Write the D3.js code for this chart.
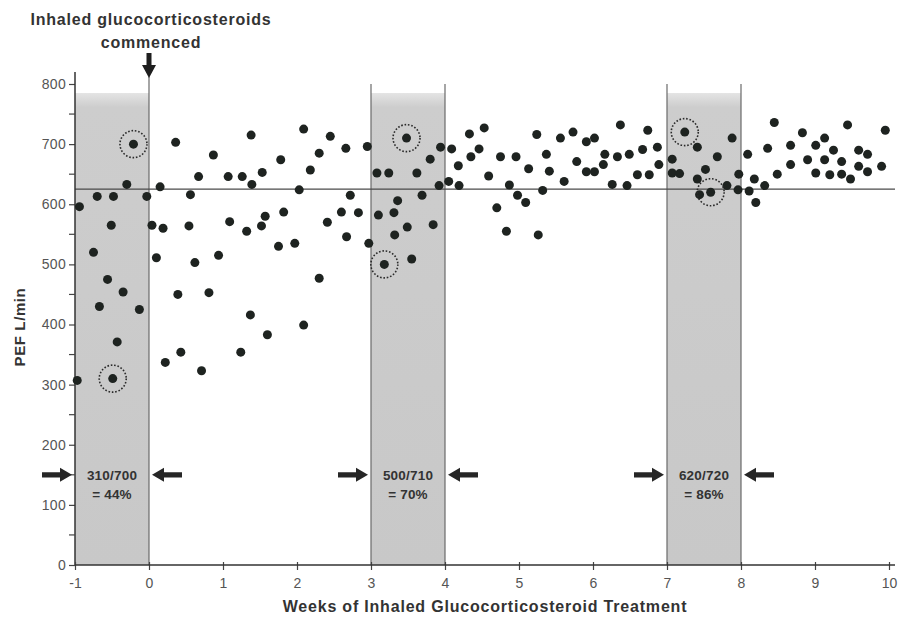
<!DOCTYPE html>
<html>
<head>
<meta charset="utf-8">
<script src="https://cdn.jsdelivr.net/npm/d3@7"></script>
<style>
  html, body { margin: 0; padding: 0; background: #fff; }
  svg { display: block; font-family: "Liberation Sans", Arial, sans-serif; }
</style>
</head>
<body>
<svg id="chart" width="899" height="617"></svg>
<script>
// Daily peak expiratory flow readings: [week, PEF L/min]
const readings = [
  [-0.94,596],[-0.97,307],[-0.70,613],[-0.48,613],[-0.30,633],[-0.03,613],[-0.51,565],[0.04,565],
  [-0.75,520],[-0.56,475],[-0.35,454],[-0.67,430],[-0.13,425],[-0.43,371],
  [0.15,629],[0.19,560],[0.10,511],[0.36,703],[0.39,450],[0.22,337],[0.43,354],[0.54,564],
  [0.56,616],[0.62,503],[0.67,646],[0.71,323],[0.81,453],[0.87,682],[0.94,515],[1.07,646],
  [1.09,571],[1.26,646],[1.24,354],[1.32,555],[1.38,715],[1.39,633],[1.37,416],[1.52,564],
  [1.53,653],[1.57,580],[1.60,383],[1.78,674],[1.82,587],[1.75,530],[1.97,535],[2.03,624],
  [2.09,725],[2.45,713],[2.30,685],[2.66,693],[2.95,696],[2.18,657],[2.72,615],[2.60,587],
  [2.83,586],[2.41,570],[2.67,546],[2.97,535],[2.30,477],[2.09,399],
  [3.08,652],[3.24,652],[3.62,652],[3.80,675],[3.94,695],[3.92,631],[3.69,615],[3.36,606],
  [3.10,582],[3.31,586],[3.49,562],[3.32,549],[3.84,566],[3.55,509],
  [4.09,692],[4.05,638],[4.18,664],[4.19,631],[4.33,717],[4.53,727],[4.35,679],[4.46,692],
  [4.59,647],[4.75,679],[4.96,679],[4.87,632],[4.70,594],[4.98,615],[5.09,603],[4.83,555],
  [5.13,659],[5.24,716],[5.37,683],[5.41,655],[5.32,623],[5.26,549],[5.56,710],[5.73,720],
  [5.61,638],[5.78,671],
  [5.91,704],[6.02,710],[5.91,654],[6.02,654],[6.16,683],[6.14,666],[6.26,633],[6.33,679],
  [6.37,732],[6.46,631],[6.49,683],[6.60,649],[6.67,691],[6.74,723],[6.76,649],[6.87,695],
  [6.89,666],
  [7.07,675],[7.07,652],[7.17,651],[7.41,695],[7.41,642],[7.52,658],[7.68,679],[7.44,616],
  [7.81,631],[7.88,710],[7.97,650],[7.96,624],
  [8.09,683],[8.11,622],[8.18,642],[8.20,603],[8.32,631],[8.36,693],[8.45,736],[8.49,650],
  [8.67,698],[8.67,666],[8.83,719],[8.90,674],[9.01,698],[9.01,652],[9.13,710],[9.13,674],
  [9.20,649],[9.25,690],[9.36,671],[9.36,650],[9.44,732],[9.48,642],[9.59,690],[9.59,663],
  [9.71,683],[9.71,654],[9.90,663],[9.95,723]
];

// Lowest and highest reading of each assessment week (ringed)
const ringed = [
  [-0.49,310],[-0.21,700],
  [3.18,500],[3.48,710],
  [7.24,720],[7.59,620]
];

// Assessment weeks and their variability labels
const windows = [
  { start: -1, end: 0, ratio: "310/700", pct: "= 44%" },
  { start: 3,  end: 4, ratio: "500/710", pct: "= 70%" },
  { start: 7,  end: 8, ratio: "620/720", pct: "= 86%" }
];

const xTicks = [-1,0,1,2,3,4,5,6,7,8,9,10];
const yTicks = [0,100,200,300,400,500,600,700,800];
const yMinorTicks = [50,150,250,350,450,550,650,750];
const referencePEF = 625;
const bandTop = 785;
const arrowLevel = 150;
const startWeek = 0;

const FONT = "'Liberation Sans', Arial, sans-serif";
const svg = d3.select("#chart");
const x = d3.scaleLinear().domain([-1, 10]).range([75, 889]);
const y = d3.scaleLinear().domain([0, 800]).range([565, 84]);

// gradient for the soft top of the shaded weeks
const defs = svg.append("defs");
const grad = defs.append("linearGradient").attr("id", "bandFade")
  .attr("x1", 0).attr("x2", 0).attr("y1", 0).attr("y2", 1);
grad.append("stop").attr("offset", "0").attr("stop-color", "#e4e4e4");
grad.append("stop").attr("offset", "0.03").attr("stop-color", "#cdcdcd");
grad.append("stop").attr("offset", "1").attr("stop-color", "#c8c8c8");

// shaded weeks
svg.append("g").selectAll("rect").data(windows).join("rect")
  .attr("x", d => x(d.start))
  .attr("y", y(bandTop))
  .attr("width", d => x(d.end) - x(d.start))
  .attr("height", y(0) - y(bandTop))
  .attr("fill", "url(#bandFade)");

// band edges
const edges = [];
windows.forEach(d => { edges.push(d.start, d.end); });
svg.append("g").selectAll("line").data(edges.filter(e => e !== -1)).join("line")
  .attr("x1", d => x(d)).attr("x2", d => x(d))
  .attr("y1", d => d === startWeek ? y(812) : y(800))
  .attr("y2", y(0))
  .attr("stroke", "#6a6a6a").attr("stroke-width", 1.2);

// reference line
svg.append("line")
  .attr("x1", x(-1)).attr("x2", 895)
  .attr("y1", y(referencePEF)).attr("y2", y(referencePEF))
  .attr("stroke", "#4a4a4a").attr("stroke-width", 1.3);

// y axis
const yAxis = d3.axisLeft(y).tickValues(yTicks).tickSize(6).tickPadding(3);
const gy = svg.append("g").attr("transform", `translate(${x(-1)},0)`).call(yAxis);
gy.select(".domain").remove();
gy.append("line").attr("x1", 0).attr("x2", 0).attr("y1", y(820)).attr("y2", y(0))
  .attr("stroke", "#333").attr("stroke-width", 1.5);
gy.selectAll(".tick line").attr("stroke", "#444").attr("stroke-width", 1.2);
gy.selectAll(".tick text").attr("fill", "#555").attr("font-size", 14)
  .attr("letter-spacing", 0.3).attr("font-family", FONT);
gy.append("g").selectAll("line").data(yMinorTicks).join("line")
  .attr("x1", -6).attr("x2", 0).attr("y1", d => y(d)).attr("y2", d => y(d))
  .attr("stroke", "#444").attr("stroke-width", 1.2);

// x axis
const xAxis = d3.axisBottom(x).tickValues(xTicks).tickSize(5).tickPadding(8)
  .tickFormat(d => String(d));
const gx = svg.append("g").attr("transform", `translate(0,${y(0)})`).call(xAxis);
gx.select(".domain").remove();
gx.append("line").attr("x1", x(-1)).attr("x2", 895).attr("y1", 0).attr("y2", 0)
  .attr("stroke", "#333").attr("stroke-width", 1.5);
gx.selectAll(".tick line").attr("y1", -3).attr("stroke", "#444").attr("stroke-width", 1.2);
gx.selectAll(".tick text").attr("fill", "#555").attr("font-size", 14)
  .attr("font-family", FONT);

// readings
svg.append("g").selectAll("circle").data(readings.concat(ringed)).join("circle")
  .attr("cx", d => x(d[0])).attr("cy", d => y(d[1]))
  .attr("r", 4.5).attr("fill", "#1e2320");

// dotted rings around the extremes
svg.append("g").selectAll("circle").data(ringed).join("circle")
  .attr("cx", d => x(d[0])).attr("cy", d => y(d[1]))
  .attr("r", 13.5).attr("fill", "none")
  .attr("stroke", "#2a2a2a").attr("stroke-width", 1.6)
  .attr("stroke-dasharray", "1.6,1.8");

// block arrows
function hArrow(tipX, tailX, cy) {
  const dir = Math.sign(tipX - tailX);
  const head = 12, hh = 7, sh = 2.6;
  const neck = tipX - dir * head;
  return `M${tailX},${cy - sh} L${neck},${cy - sh} L${neck},${cy - hh} L${tipX},${cy}` +
         ` L${neck},${cy + hh} L${neck},${cy + sh} L${tailX},${cy + sh} Z`;
}
const ay = y(arrowLevel);
const arrows = svg.append("g").attr("fill", "#262626");
windows.forEach(d => {
  const l = x(d.start), r = x(d.end);
  arrows.append("path").attr("d", hArrow(l - 3, l - 33, ay));
  arrows.append("path").attr("d", hArrow(r + 3, r + 33, ay));
});

// variability labels inside the shaded weeks
const lab = svg.append("g").attr("text-anchor", "middle").attr("fill", "#333")
  .attr("font-size", 13.5).attr("font-weight", "bold").attr("letter-spacing", 0.2);
windows.forEach(d => {
  const cx = x((d.start + d.end) / 2);
  lab.append("text").attr("x", cx).attr("y", ay + 5).text(d.ratio);
  lab.append("text").attr("x", cx).attr("y", ay + 24).text(d.pct);
});

// treatment start annotation
const sx = x(startWeek);
svg.append("text").attr("x", sx + 2).attr("y", 25).attr("text-anchor", "middle")
  .attr("font-size", 16).attr("font-weight", "bold").attr("fill", "#333")
  .attr("letter-spacing", 0.8)
  .text("Inhaled glucocorticosteroids");
svg.append("text").attr("x", sx + 2).attr("y", 48).attr("text-anchor", "middle")
  .attr("font-size", 16).attr("font-weight", "bold").attr("fill", "#333")
  .attr("letter-spacing", 0.8)
  .text("commenced");
svg.append("path")
  .attr("d", `M${sx - 2.5},53 L${sx + 2.5},53 L${sx + 2.5},65 L${sx + 7},65 L${sx},78 L${sx - 7},65 L${sx - 2.5},65 Z`)
  .attr("fill", "#1e1e1e");

// axis titles
svg.append("text").attr("x", 485).attr("y", 612).attr("text-anchor", "middle")
  .attr("font-size", 16).attr("font-weight", "bold").attr("fill", "#333")
  .attr("letter-spacing", 0.8)
  .text("Weeks of Inhaled Glucocorticosteroid Treatment");
svg.append("text").attr("transform", "translate(25,327) rotate(-90)")
  .attr("text-anchor", "middle")
  .attr("font-size", 15).attr("font-weight", "bold").attr("fill", "#333")
  .attr("letter-spacing", 0.6)
  .text("PEF L/min");
</script>
</body>
</html>
